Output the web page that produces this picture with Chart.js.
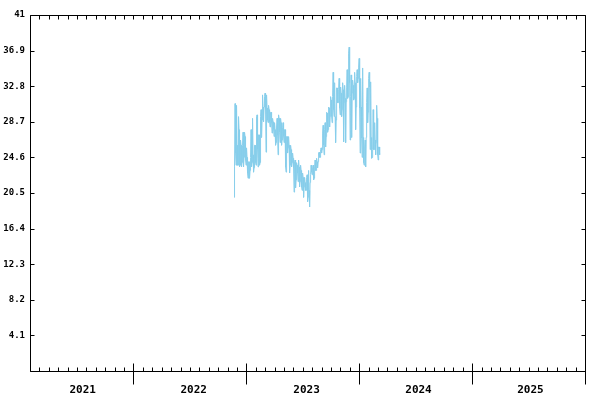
<!DOCTYPE html>
<html>
<head>
<meta charset="utf-8">
<script src="https://cdn.jsdelivr.net/npm/chart.js@4.4.1/dist/chart.umd.min.js"></script>
<style>
html,body{margin:0;padding:0;background:#fff;}
canvas{display:block;}
</style>
</head>
<body>
<canvas id="c" width="600" height="400"></canvas>
<script>
// X axis is measured in months since 1 Jan 2021
const yearLabels = ['2021', '2022', '2023', '2024', '2025'];
const yearLabelPos = [6.6, 18.4, 30.4, 42.3, 54.2];
const yearBoundaries = [12, 24, 36, 48, 60];
const xMin = 1;
const xMax = 60;

const yTickValues = [0, 4.1, 8.2, 12.3, 16.4, 20.5, 24.6, 28.7, 32.8, 36.9, 41];
const yTickLabels = ['', '4.1', '8.2', '12.3', '16.4', '20.5', '24.6', '28.7', '32.8', '36.9', '41'];

// series: Nov 2022 .. Mar 2024
const seriesStartMonth = 22.69;
const seriesStepMonths = 0.0532;
const seriesValues = [
  20.0, 23.5, 30.8, 25.1, 23.7, 30.6, 26.0, 23.7, 23.7, 29.3, 27.8, 23.5,
  23.7, 26.6, 26.0, 23.5, 24.0, 26.0, 27.5, 23.5, 24.6, 27.5, 27.0, 24.3,
  23.7, 25.7, 24.6, 22.8, 22.2, 24.1, 24.1, 22.2, 23.1, 24.6, 27.8, 23.5,
  24.0, 29.1, 24.9, 22.9, 23.4, 26.0, 26.0, 24.0, 23.7, 29.3, 29.5, 25.5,
  23.5, 27.2, 27.2, 23.7, 24.0, 29.3, 30.1, 26.9, 28.9, 31.8, 30.4, 28.7,
  30.4, 31.6, 32.0, 30.1, 25.2, 31.8, 30.3, 28.9, 28.6, 30.6, 30.1, 28.7,
  28.1, 29.8, 29.8, 28.6, 27.4, 29.1, 28.7, 27.8, 27.0, 28.6, 27.8, 26.0,
  26.3, 28.1, 29.1, 27.2, 24.9, 29.5, 29.1, 27.5, 26.3, 29.1, 28.6, 26.0,
  26.6, 28.0, 28.6, 27.0, 26.3, 27.8, 27.8, 23.5, 22.9, 27.0, 27.0, 25.1,
  25.7, 27.0, 26.0, 22.8, 23.7, 26.0, 25.5, 23.5, 24.0, 25.1, 24.5, 23.4,
  20.6, 24.1, 24.3, 21.1, 22.0, 24.0, 23.7, 22.8, 21.8, 24.3, 23.5, 21.2,
  21.8, 23.7, 23.1, 21.2, 20.8, 22.8, 22.3, 20.0, 21.2, 22.3, 21.7, 20.8,
  20.8, 22.3, 22.6, 19.5, 20.0, 23.1, 20.8, 18.9, 21.7, 22.6, 23.7, 22.9,
  22.6, 23.4, 23.7, 22.0, 22.2, 23.5, 24.3, 23.1, 23.1, 24.5, 24.1, 23.4,
  24.1, 25.1, 25.2, 24.6, 24.6, 25.5, 25.7, 25.1, 25.5, 27.4, 28.3, 26.0,
  24.9, 27.8, 28.6, 25.8, 27.0, 29.8, 29.7, 27.5, 27.8, 30.4, 30.3, 28.1,
  29.3, 31.6, 31.2, 29.3, 28.6, 31.6, 34.4, 30.1, 29.3, 33.2, 29.3, 26.3,
  28.9, 32.6, 32.6, 30.9, 30.9, 32.4, 33.7, 30.3, 29.5, 32.7, 32.0, 29.3,
  30.1, 33.2, 32.4, 26.4, 30.9, 32.9, 31.4, 26.3, 31.0, 32.6, 34.7, 31.4,
  31.6, 36.6, 37.3, 33.2, 26.6, 31.6, 34.1, 26.9, 32.0, 33.5, 32.9, 31.2,
  31.4, 34.4, 33.2, 27.8, 30.4, 33.9, 34.7, 33.2, 33.7, 35.0, 36.0, 30.3,
  25.1, 33.7, 30.4, 26.8, 24.6, 34.9, 26.9, 24.0, 23.7, 25.8, 26.6, 23.5,
  26.9, 30.9, 32.6, 28.6, 29.8, 33.7, 34.4, 32.7, 25.5, 33.3, 26.9, 24.5,
  24.6, 25.5, 30.1, 25.5, 25.5, 28.6, 26.6, 24.9, 26.3, 30.6, 29.1, 24.9,
  24.3, 25.8, 25.8, 24.9
];

const points = seriesValues.map((v, i) => ({ x: seriesStartMonth + i * seriesStepMonths, y: v }));

const axisDecor = {
  id: 'axisDecor',
  afterDraw(chart) {
    const { ctx, chartArea: a, scales: { x, y } } = chart;
    const L = Math.round(a.left) + 0.5, R = Math.round(a.right) + 0.5;
    const T = Math.round(a.top) + 0.5, B = Math.round(a.bottom) + 0.5;
    ctx.save();
    ctx.strokeStyle = '#000';
    ctx.lineWidth = 1;
    ctx.beginPath();
    ctx.rect(L, T, R - L, B - T);
    yTickValues.forEach(v => {
      const py = Math.round(y.getPixelForValue(v)) + 0.5;
      ctx.moveTo(L, py); ctx.lineTo(L + 4, py);
      ctx.moveTo(R, py); ctx.lineTo(R - 4, py);
    });
    for (let m = Math.ceil(x.min); m <= x.max; m++) {
      const px = Math.round(x.getPixelForValue(m)) + 0.5;
      ctx.moveTo(px, T); ctx.lineTo(px, T + 4);
      ctx.moveTo(px, B); ctx.lineTo(px, B - 4);
    }
    yearBoundaries.forEach(m => {
      const px = Math.round(x.getPixelForValue(m)) + 0.5;
      ctx.moveTo(px, B - 8); ctx.lineTo(px, B + 13);
    });
    ctx.stroke();
    ctx.restore();
  }
};

const monoFont = "'DejaVu Sans Mono', 'Liberation Mono', monospace";

new Chart(document.getElementById('c'), {
  type: 'line',
  data: {
    datasets: [{
      data: points,
      borderColor: '#87ceeb',
      borderWidth: 1,
      pointRadius: 0,
      tension: 0,
      fill: false
    }]
  },
  options: {
    responsive: false,
    animation: false,
    layout: { padding: { top: 15, right: 15, left: 0, bottom: 0 } },
    plugins: { legend: { display: false }, tooltip: { enabled: false } },
    scales: {
      x: {
        type: 'linear',
        min: xMin,
        max: xMax,
        grid: { display: false, drawTicks: false },
        border: { display: false },
        afterBuildTicks: s => { s.ticks = yearLabelPos.map(v => ({ value: v })); },
        afterFit: s => { s.height = 29; },
        ticks: {
          autoSkip: false,
          maxRotation: 0,
          minRotation: 0,
          padding: 13,
          color: '#000',
          font: { family: monoFont, size: 11, weight: 'bold' },
          callback: (v, i) => yearLabels[i]
        }
      },
      y: {
        min: 0,
        max: 41,
        grid: { display: false, drawTicks: false },
        border: { display: false },
        afterBuildTicks: s => { s.ticks = yTickValues.map(v => ({ value: v })); },
        afterFit: s => { s.width = 30; },
        ticks: {
          autoSkip: false,
          padding: 5,
          color: '#000',
          font: { family: monoFont, size: 9, weight: 'bold' },
          callback: (v, i) => yTickLabels[i]
        }
      }
    }
  },
  plugins: [axisDecor]
});
</script>
</body>
</html>
